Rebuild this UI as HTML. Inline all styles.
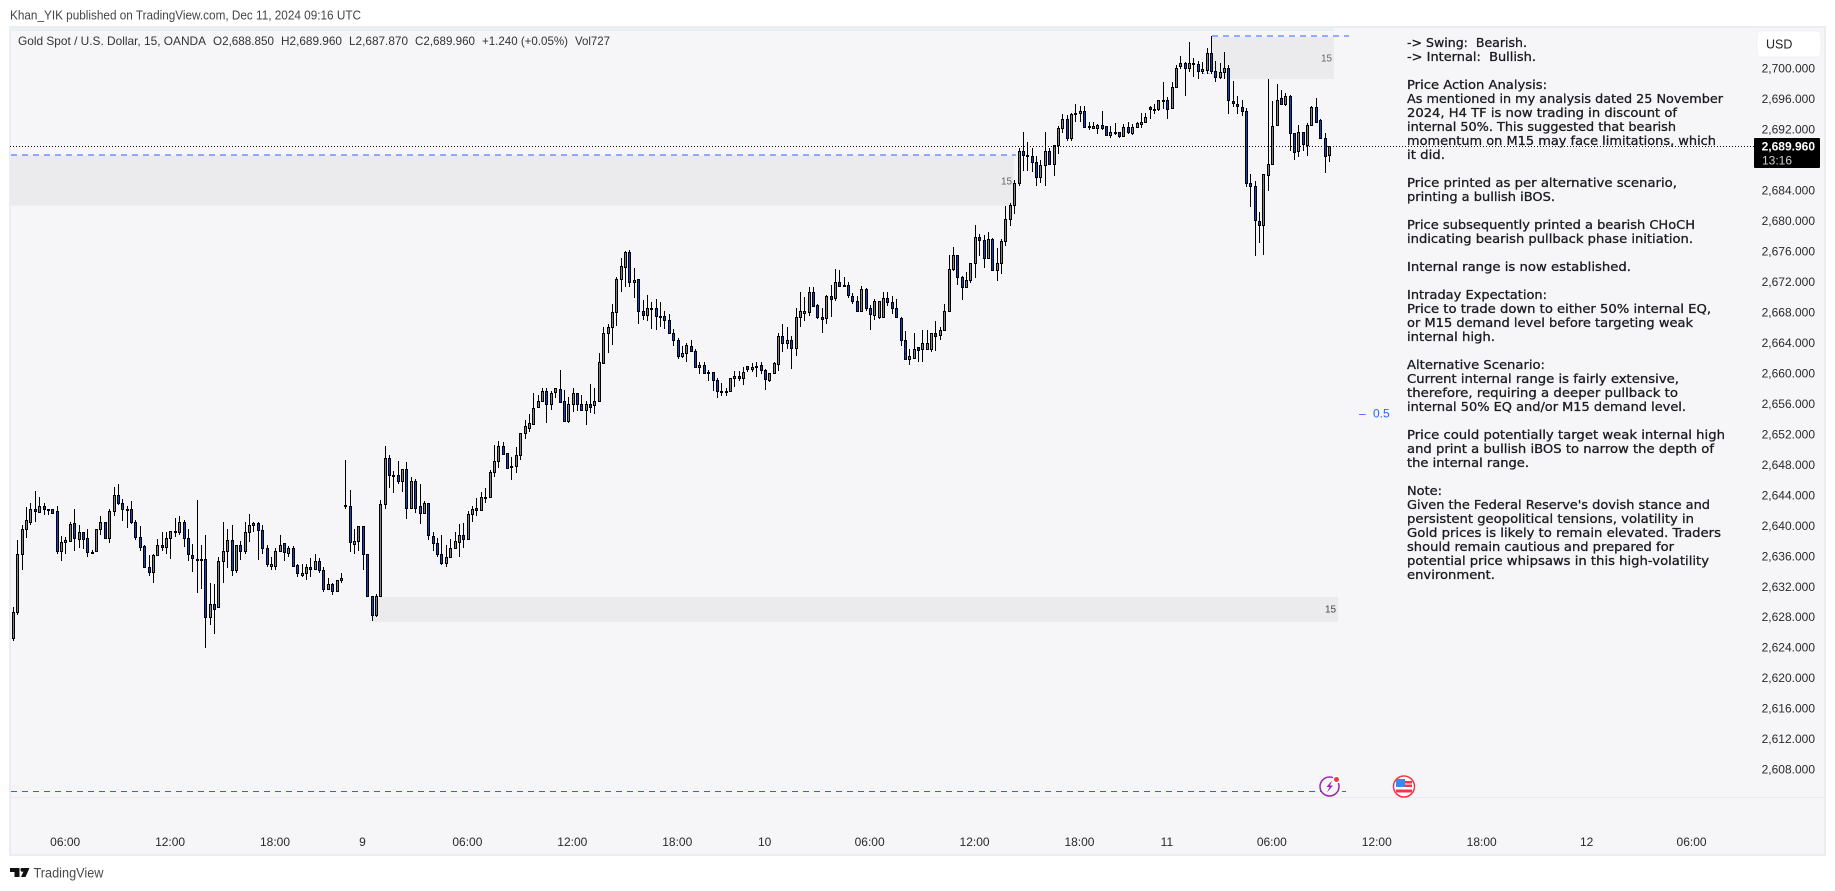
<!DOCTYPE html>
<html lang="en">
<head>
<meta charset="utf-8">
<title>Gold Spot / U.S. Dollar, 15, OANDA</title>
<style>
html,body{margin:0;padding:0;background:#fff;width:1835px;height:891px;overflow:hidden}
svg{display:block}
text{font-family:"Liberation Sans",sans-serif;white-space:pre}
.note text{font-family:"DejaVu Sans","Liberation Sans",sans-serif;font-size:12.5px;fill:#1a1c22;stroke:#1a1c22;stroke-width:.3}
</style>
</head>
<body>
<svg id="chart" xmlns="http://www.w3.org/2000/svg" width="1835" height="891" viewBox="0 0 1835 891">
  <rect x="0" y="0" width="1835" height="891" fill="#ffffff"/>
  <text x="10" y="19.5" font-size="12.5" fill="#454545" textLength="351" lengthAdjust="spacingAndGlyphs">Khan_YIK published on TradingView.com, Dec 11, 2024 09:16 UTC</text>

  <rect x="9" y="26" width="1817" height="830" fill="#ecedf3"/>
  <rect x="11" y="28" width="1813" height="826" fill="#f6f5f7"/>
  <rect x="11" y="28" width="1323" height="3" fill="#e8f0f3"/>
  <line x1="11" y1="797.5" x2="1824" y2="797.5" stroke="#ebeaf0" stroke-width="1"/>

  <rect x="11" y="155.5" width="1003" height="50" fill="#ebebee"/>
  <rect x="1212" y="37" width="122" height="42" fill="#ebebee"/>
  <rect x="372" y="597" width="966" height="25" fill="#ebebee"/>
  <text x="1001" y="184.5" font-size="10" fill="#666">15</text>
  <text x="1321" y="61.5" font-size="10" fill="#666">15</text>
  <text x="1325" y="612.5" font-size="10" fill="#444">15</text>

  <line x1="11" y1="155" x2="1016" y2="155" stroke="#2962ff" stroke-width="1" stroke-dasharray="6 5"/>
  <line x1="1212" y1="36" x2="1349" y2="36" stroke="#2962ff" stroke-width="1" stroke-dasharray="6 5"/>
  <line x1="11" y1="791.5" x2="1346" y2="791.5" stroke="#2962ff" stroke-width="1" stroke-dasharray="6 5"/>
  <line x1="1202" y1="73.5" x2="1212" y2="73.5" stroke="#9db8ff" stroke-width="1" stroke-dasharray="3 2"/>

  <g id="candles" shape-rendering="crispEdges"></g>

  <g class="note">
    <text x="1407" y="47" textLength="120" lengthAdjust="spacingAndGlyphs">-&gt; Swing:  Bearish.</text>
    <text x="1407" y="61" textLength="129" lengthAdjust="spacingAndGlyphs">-&gt; Internal:  Bullish.</text>
    <text x="1407" y="89" textLength="140" lengthAdjust="spacingAndGlyphs">Price Action Analysis:</text>
    <text x="1407" y="103" textLength="316" lengthAdjust="spacingAndGlyphs">As mentioned in my analysis dated 25 November</text>
    <text x="1407" y="117" textLength="270" lengthAdjust="spacingAndGlyphs">2024, H4 TF is now trading in discount of</text>
    <text x="1407" y="131" textLength="269" lengthAdjust="spacingAndGlyphs">internal 50%. This suggested that bearish</text>
    <text x="1407" y="145" textLength="309" lengthAdjust="spacingAndGlyphs">momentum on M15 may face limitations, which</text>
    <text x="1407" y="159" textLength="38" lengthAdjust="spacingAndGlyphs">it did.</text>
    <text x="1407" y="187" textLength="270" lengthAdjust="spacingAndGlyphs">Price printed as per alternative scenario,</text>
    <text x="1407" y="201" textLength="148" lengthAdjust="spacingAndGlyphs">printing a bullish iBOS.</text>
    <text x="1407" y="229" textLength="288" lengthAdjust="spacingAndGlyphs">Price subsequently printed a bearish CHoCH</text>
    <text x="1407" y="243" textLength="286" lengthAdjust="spacingAndGlyphs">indicating bearish pullback phase initiation.</text>
    <text x="1407" y="271" textLength="224" lengthAdjust="spacingAndGlyphs">Internal range is now established.</text>
    <text x="1407" y="299" textLength="140" lengthAdjust="spacingAndGlyphs">Intraday Expectation:</text>
    <text x="1407" y="313" textLength="304" lengthAdjust="spacingAndGlyphs">Price to trade down to either 50% internal EQ,</text>
    <text x="1407" y="327" textLength="286" lengthAdjust="spacingAndGlyphs">or M15 demand level before targeting weak</text>
    <text x="1407" y="341" textLength="88" lengthAdjust="spacingAndGlyphs">internal high.</text>
    <text x="1407" y="369" textLength="138" lengthAdjust="spacingAndGlyphs">Alternative Scenario:</text>
    <text x="1407" y="383" textLength="272" lengthAdjust="spacingAndGlyphs">Current internal range is fairly extensive,</text>
    <text x="1407" y="397" textLength="271" lengthAdjust="spacingAndGlyphs">therefore, requiring a deeper pullback to</text>
    <text x="1407" y="411" textLength="279" lengthAdjust="spacingAndGlyphs">internal 50% EQ and/or M15 demand level.</text>
    <text x="1407" y="439" textLength="318" lengthAdjust="spacingAndGlyphs">Price could potentially target weak internal high</text>
    <text x="1407" y="453" textLength="307" lengthAdjust="spacingAndGlyphs">and print a bullish iBOS to narrow the depth of</text>
    <text x="1407" y="467" textLength="122" lengthAdjust="spacingAndGlyphs">the internal range.</text>
    <text x="1407" y="495" textLength="35" lengthAdjust="spacingAndGlyphs">Note:</text>
    <text x="1407" y="509" textLength="303" lengthAdjust="spacingAndGlyphs">Given the Federal Reserve's dovish stance and</text>
    <text x="1407" y="523" textLength="287" lengthAdjust="spacingAndGlyphs">persistent geopolitical tensions, volatility in</text>
    <text x="1407" y="537" textLength="314" lengthAdjust="spacingAndGlyphs">Gold prices is likely to remain elevated. Traders</text>
    <text x="1407" y="551" textLength="267" lengthAdjust="spacingAndGlyphs">should remain cautious and prepared for</text>
    <text x="1407" y="565" textLength="302" lengthAdjust="spacingAndGlyphs">potential price whipsaws in this high-volatility</text>
    <text x="1407" y="579" textLength="88" lengthAdjust="spacingAndGlyphs">environment.</text>
  </g>

  <line x1="10" y1="146.5" x2="1754" y2="146.5" stroke="#111" stroke-width="1" stroke-dasharray="1 2"/>

  <g font-size="12" fill="#3a3a3a">
    <text x="18" y="45" fill="#333" font-size="12" textLength="188" lengthAdjust="spacingAndGlyphs">Gold Spot / U.S. Dollar, 15, OANDA</text>
    <text x="213" y="45" font-size="12" fill="#333" textLength="61" lengthAdjust="spacingAndGlyphs">O2,688.850</text>
    <text x="281" y="45" font-size="12" fill="#333" textLength="61" lengthAdjust="spacingAndGlyphs">H2,689.960</text>
    <text x="349" y="45" font-size="12" fill="#333" textLength="59" lengthAdjust="spacingAndGlyphs">L2,687.870</text>
    <text x="415" y="45" font-size="12" fill="#333" textLength="60" lengthAdjust="spacingAndGlyphs">C2,689.960</text>
    <text x="482" y="45" font-size="12" fill="#333" textLength="86" lengthAdjust="spacingAndGlyphs">+1.240 (+0.05%)</text>
    <text x="575" y="45" font-size="12" fill="#333" textLength="35" lengthAdjust="spacingAndGlyphs">Vol727</text>
  </g>

  <g id="price-axis" font-size="12" fill="#2a2a2a"></g>
  <g id="time-axis" font-size="12" fill="#2a2a2a"></g>

  <g fill="#2962ff" font-size="12">
    <text x="1359" y="417.5">–</text>
    <text x="1373" y="417.5">0.5</text>
  </g>

  <rect x="1757" y="31" width="64" height="26" rx="4" fill="#ffffff" stroke="#eef0f5" stroke-width="1"/>
  <text x="1766" y="48.5" font-size="12.5" fill="#222">USD</text>

  <rect x="1754" y="138" width="66" height="30" rx="1" fill="#000000"/>
  <text x="1815" y="150.5" font-size="12" font-weight="bold" fill="#ffffff" text-anchor="end">2,689.960</text>
  <text x="1762" y="164.5" font-size="12" fill="#d0d0d0">13:16</text>

  <g>
    <circle cx="1329.5" cy="786.5" r="9.5" fill="#f6f5f7" stroke="#9c27b0" stroke-width="1.5"/>
    <path d="M1332 780.5 L1326.5 787 L1329.5 787 L1327 792.5 L1333 785.5 L1330 785.5 Z" fill="#9c27b0"/>
    <circle cx="1336.5" cy="779.5" r="4" fill="#ffffff"/>
    <circle cx="1336.5" cy="779.5" r="2.5" fill="#f23645"/>
  </g>
  <g>
    <circle cx="1404" cy="786.5" r="10.5" fill="#ffffff" stroke="#f23645" stroke-width="1.5"/>
    <rect x="1396" y="779" width="9" height="8" fill="#2f8ef0"/>
    <rect x="1405" y="781" width="7" height="2.5" fill="#f23645"/>
    <rect x="1405" y="784.5" width="7" height="2.5" fill="#f23645"/>
    <rect x="1396" y="789.5" width="16" height="3" fill="#f23645"/>
  </g>

  <g>
    <path d="M10 868 H19.5 V877 H14.5 V872 H10 Z M21.5 868 H29.5 L25.5 877 H21 L23.5 871.5 A2 2 0 0 1 21.5 868 Z" fill="#111"/>
    <text x="33.5" y="877.5" font-size="13.5" fill="#4a4a4a" textLength="70" lengthAdjust="spacingAndGlyphs">TradingView</text>
  </g>
</svg>
<script>
const opens = [
2625.4,2628.9,2636.5,2639.8,2640.7,2642.3,2642.0,2642.7,2642.3,2642.3,
2642.1,2636.8,2638.0,2638.2,2640.5,2638.4,2639.3,2638.5,2636.6,2636.8,
2639.7,2640.6,2638.6,2642.1,2644.2,2643.2,2642.4,2642.4,2640.7,2638.7,
2637.5,2634.8,2634.1,2636.3,2637.7,2637.4,2638.5,2639.4,2639.4,2640.7,
2638.6,2636.3,2635.7,2635.7,2635.8,2628.2,2629.9,2629.5,2635.6,2636.9,
2638.3,2634.4,2637.6,2636.9,2639.3,2640.2,2640.5,2639.6,2637.3,2634.9,
2634.9,2636.9,2637.9,2636.6,2637.3,2635.0,2633.7,2634.0,2634.8,2634.5,
2635.6,2634.4,2631.9,2632.5,2631.6,2633.0,2642.9,2642.8,2637.8,2638.1,
2640.1,2636.5,2630.9,2628.5,2630.9,2643.0,2649.1,2646.7,2646.8,2646.0,
2647.6,2642.5,2646.1,2642.7,2641.8,2643.2,2638.8,2637.9,2636.4,2635.3,
2636.0,2637.3,2638.0,2639.0,2638.4,2641.7,2642.5,2642.2,2643.9,2644.0,
2647.2,2648.6,2650.6,2649.7,2647.9,2648.0,2649.4,2652.3,2653.0,2653.5,
2655.7,2656.5,2657.8,2656.1,2657.7,2658.1,2656.5,2653.9,2656.2,2657.6,
2656.2,2655.4,2656.2,2656.0,2656.5,2661.5,2665.5,2666.2,2668.2,2672.5,
2674.1,2676.1,2672.1,2672.5,2668.3,2667.8,2668.7,2668.7,2667.7,2667.7,
2667.1,2665.5,2664.6,2662.5,2662.8,2663.7,2663.1,2661.0,2661.2,2660.3,
2660.3,2659.3,2657.9,2657.9,2657.9,2659.5,2659.8,2659.5,2661.1,2660.7,
2661.0,2661.2,2660.6,2659.3,2660.2,2661.4,2665.0,2664.1,2664.6,2663.5,
2667.5,2668.1,2668.2,2670.8,2669.1,2667.6,2667.4,2670.3,2670.0,2672.2,
2671.6,2671.8,2670.3,2669.6,2668.4,2671.2,2668.7,2667.8,2667.6,2667.6,
2670.0,2669.5,2668.7,2667.4,2664.6,2662.1,2662.2,2663.6,2663.3,2663.4,
2663.4,2665.4,2665.2,2665.8,2668.4,2673.8,2675.7,2672.8,2671.5,2672.4,
2674.6,2678.0,2677.6,2675.3,2677.8,2673.7,2674.7,2677.5,2680.4,2682.3,
2685.1,2689.4,2688.7,2688.7,2687.9,2685.9,2687.5,2689.4,2687.6,2690.1,
2692.3,2693.5,2691.0,2694.2,2694.3,2694.6,2692.5,2692.3,2692.3,2692.7,
2692.6,2691.4,2691.9,2691.9,2691.3,2692.5,2691.7,2692.5,2692.9,2693.1,
2695.1,2694.8,2694.8,2696.1,2696.0,2695.0,2697.8,2700.5,2700.9,2700.2,
2700.8,2700.7,2699.9,2700.0,2702.2,2699.9,2699.0,2699.7,2700.2,2695.9,
2695.5,2695.1,2694.6,2685.1,2684.8,2680.1,2679.6,2686.2,2687.7,2692.7,
2696.3,2695.5,2696.5,2691.7,2689.3,2691.8,2690.1,2692.7,2695.1,2693.4,
2691.1,2688.85];
const closes = [
2628.9,2636.5,2639.8,2640.9,2642.3,2642.1,2642.7,2642.3,2642.4,2641.9,
2636.8,2638.0,2638.3,2640.4,2638.5,2639.3,2638.4,2636.7,2636.7,2639.7,
2640.6,2638.6,2642.1,2644.2,2643.2,2642.3,2642.3,2640.7,2638.7,2637.4,
2634.8,2634.1,2636.3,2637.7,2637.4,2638.5,2639.5,2639.5,2640.7,2638.6,
2636.4,2635.9,2635.8,2635.8,2628.2,2629.9,2629.3,2635.6,2636.9,2638.3,
2634.4,2637.6,2636.9,2639.3,2640.2,2640.5,2639.6,2637.3,2635.1,2635.1,
2636.8,2637.7,2636.7,2637.2,2634.9,2633.9,2634.0,2634.8,2634.5,2635.5,
2634.4,2631.8,2632.5,2631.6,2633.0,2633.3,2642.8,2638.0,2638.1,2640.1,
2636.5,2630.9,2628.5,2630.9,2643.0,2649.1,2646.8,2646.8,2646.0,2647.6,
2642.5,2646.1,2642.5,2641.8,2643.2,2638.9,2637.9,2636.4,2635.3,2636.0,
2637.3,2638.1,2639.0,2638.4,2641.7,2642.3,2642.2,2643.9,2644.0,2647.2,
2648.6,2650.6,2649.6,2647.8,2648.0,2649.4,2652.3,2653.2,2653.6,2655.6,
2656.5,2657.8,2656.1,2657.6,2658.2,2656.4,2653.9,2656.2,2657.6,2656.1,
2655.4,2656.2,2655.8,2656.5,2661.6,2665.5,2666.3,2668.2,2672.5,2674.2,
2676.1,2672.2,2672.4,2668.3,2667.8,2668.7,2668.7,2667.7,2667.5,2667.1,
2665.5,2664.5,2662.4,2662.8,2663.9,2663.1,2661.0,2661.2,2660.2,2660.3,
2659.3,2657.8,2657.9,2657.9,2659.5,2659.8,2659.6,2660.3,2660.7,2661.0,
2661.1,2660.6,2659.4,2660.2,2661.5,2665.0,2664.1,2664.6,2663.5,2667.5,
2668.4,2668.4,2670.8,2669.0,2667.6,2667.3,2670.3,2669.9,2672.1,2671.6,
2671.8,2670.4,2669.6,2668.4,2671.2,2668.8,2667.9,2669.7,2669.7,2670.0,
2669.5,2668.7,2667.5,2664.6,2662.1,2662.4,2663.3,2663.2,2664.2,2664.2,
2665.4,2665.0,2665.9,2668.4,2673.8,2675.7,2672.8,2671.5,2672.4,2674.6,
2678.0,2677.6,2675.3,2677.8,2673.7,2674.7,2677.5,2680.4,2682.3,2685.1,
2689.3,2688.8,2688.8,2687.9,2685.9,2687.5,2689.4,2687.6,2690.1,2692.3,
2693.5,2691.0,2694.2,2694.3,2694.6,2692.5,2692.6,2692.6,2692.7,2692.4,
2691.4,2691.9,2691.9,2691.3,2692.5,2691.8,2692.5,2693.0,2693.1,2693.8,
2694.9,2694.9,2696.1,2696.1,2694.8,2697.8,2700.3,2700.9,2700.2,2700.9,
2700.9,2699.9,2700.1,2702.2,2699.9,2699.1,2699.7,2700.2,2696.1,2695.6,
2695.2,2694.6,2685.1,2684.8,2680.3,2679.6,2686.3,2687.7,2692.6,2696.1,
2695.5,2696.5,2691.7,2689.2,2691.8,2690.2,2692.7,2695.1,2693.2,2691.1,
2688.7,2689.96];
const highs = [
2629.5,2638.3,2640.2,2642.6,2643.1,2644.7,2643.9,2643.1,2642.4,2642.4,
2642.7,2638.8,2638.7,2640.7,2642.4,2640.2,2639.4,2639.7,2637.0,2639.8,
2641.5,2640.7,2642.3,2645.2,2645.7,2643.7,2642.7,2643.4,2640.9,2640.1,
2637.6,2636.3,2636.5,2638.4,2639.3,2639.4,2639.5,2641.2,2641.5,2640.9,
2639.7,2637.8,2643.5,2637.7,2638.9,2632.6,2632.5,2636.0,2640.6,2639.7,
2640.2,2637.7,2638.1,2640.6,2641.7,2640.7,2640.6,2640.2,2637.6,2636.0,
2637.2,2639.0,2637.9,2637.5,2637.5,2635.2,2635.1,2635.2,2635.9,2636.4,
2635.9,2634.8,2633.3,2632.6,2633.1,2633.9,2648.8,2644.8,2639.7,2640.1,
2640.1,2636.5,2631.0,2631.2,2643.6,2650.6,2649.4,2647.4,2648.6,2647.6,
2648.5,2646.5,2646.3,2645.7,2643.4,2643.2,2639.3,2638.6,2638.9,2637.6,
2638.4,2639.4,2640.4,2640.5,2642.1,2642.8,2643.8,2644.6,2645.1,2647.5,
2650.8,2651.3,2651.2,2649.7,2649.2,2650.5,2652.3,2654.1,2654.8,2657.6,
2657.3,2658.3,2658.2,2657.8,2658.3,2660.6,2658.0,2657.0,2658.2,2657.6,
2657.3,2656.6,2658.8,2658.2,2662.8,2666.2,2666.7,2669.2,2672.8,2675.3,
2676.2,2676.4,2674.0,2672.5,2669.8,2670.5,2669.5,2669.9,2669.5,2668.3,
2667.9,2666.0,2664.8,2663.7,2664.1,2664.5,2663.3,2661.6,2661.6,2660.6,
2660.3,2659.5,2658.9,2658.3,2659.6,2660.5,2660.5,2661.0,2661.1,2661.5,
2661.6,2661.6,2660.7,2660.2,2661.6,2665.5,2666.7,2666.3,2665.0,2668.7,
2670.9,2670.2,2671.5,2671.5,2669.2,2668.7,2670.5,2671.8,2673.8,2673.7,
2672.8,2672.1,2670.7,2670.3,2671.6,2671.3,2669.1,2669.9,2669.7,2670.9,
2670.8,2670.3,2669.9,2667.6,2665.7,2663.3,2665.5,2663.6,2665.9,2665.8,
2665.5,2667.0,2666.3,2669.2,2675.7,2676.8,2675.7,2672.9,2673.4,2674.7,
2679.6,2678.4,2678.3,2678.7,2677.9,2676.6,2677.8,2682.1,2682.5,2685.5,
2689.8,2691.8,2690.5,2689.8,2688.7,2688.1,2691.9,2689.7,2690.1,2692.6,
2694.2,2694.1,2694.3,2695.5,2695.3,2695.2,2693.2,2693.2,2692.9,2694.6,
2692.6,2692.6,2693.0,2691.9,2692.9,2693.1,2692.9,2693.1,2694.3,2694.3,
2695.3,2695.5,2696.1,2698.4,2696.4,2698.4,2700.6,2701.8,2701.0,2703.7,
2701.5,2701.1,2701.0,2702.8,2704.4,2701.2,2700.9,2702.3,2700.6,2698.5,
2696.5,2696.1,2695.0,2686.3,2685.4,2681.3,2686.3,2698.8,2695.9,2698.1,
2697.3,2696.9,2696.7,2691.7,2692.7,2691.8,2693.0,2695.3,2696.3,2693.6,
2691.7,2689.96];
const lows = [
2625.1,2628.4,2634.4,2638.5,2640.3,2640.7,2641.8,2641.6,2641.6,2641.9,
2636.4,2635.5,2636.4,2638.1,2636.8,2637.2,2637.1,2636.1,2636.5,2636.7,
2638.9,2638.6,2637.9,2641.4,2642.9,2640.8,2639.9,2640.4,2638.3,2636.9,
2634.7,2633.6,2632.6,2636.2,2636.8,2636.4,2635.8,2638.7,2639.0,2637.4,
2635.5,2634.1,2631.4,2631.8,2624.1,2627.1,2626.0,2629.4,2632.7,2634.6,
2633.6,2633.9,2635.7,2636.5,2638.0,2639.3,2635.7,2636.5,2634.7,2634.4,
2634.3,2636.8,2635.6,2636.0,2634.7,2633.5,2633.4,2633.1,2633.5,2634.3,
2634.0,2631.5,2631.8,2631.1,2631.5,2632.6,2642.4,2636.7,2636.4,2636.9,
2634.3,2630.9,2627.6,2628.2,2630.9,2642.4,2645.1,2644.4,2645.7,2644.6,
2641.1,2642.4,2641.8,2640.4,2641.7,2638.3,2636.9,2636.1,2635.0,2634.8,
2636.0,2637.2,2636.1,2637.3,2638.3,2640.7,2641.4,2642.2,2643.2,2644.0,
2646.6,2647.8,2649.4,2647.8,2646.2,2647.1,2648.8,2651.5,2652.5,2653.4,
2655.7,2656.5,2653.6,2655.4,2656.9,2656.3,2653.8,2653.6,2655.1,2655.2,
2655.3,2653.4,2655.0,2654.8,2656.5,2661.4,2662.8,2663.9,2666.4,2670.9,
2671.5,2671.5,2670.0,2666.7,2667.2,2667.0,2666.0,2665.8,2666.2,2666.0,
2665.4,2663.8,2662.1,2662.2,2661.7,2663.0,2660.9,2660.1,2660.1,2659.1,
2657.8,2656.9,2657.2,2657.2,2657.9,2658.4,2659.2,2658.7,2660.4,2660.4,
2659.7,2660.1,2658.0,2659.0,2660.1,2660.5,2663.0,2663.4,2660.7,2662.5,
2666.3,2667.0,2667.7,2668.9,2667.3,2665.5,2666.7,2667.6,2669.7,2671.5,
2671.5,2670.1,2669.3,2668.4,2668.4,2668.4,2665.8,2667.1,2667.3,2667.6,
2669.0,2667.9,2667.5,2663.7,2662.1,2661.3,2662.1,2661.7,2661.7,2663.4,
2662.9,2663.1,2664.5,2665.8,2668.4,2673.6,2671.7,2669.8,2671.4,2672.0,
2672.7,2675.6,2674.0,2675.2,2673.6,2672.3,2673.2,2676.9,2679.5,2681.1,
2684.8,2686.7,2686.7,2686.6,2684.7,2685.1,2684.7,2687.5,2686.1,2688.9,
2691.7,2690.7,2690.6,2693.1,2693.1,2692.3,2692.1,2692.2,2691.6,2692.1,
2691.3,2691.1,2691.4,2691.0,2691.2,2691.6,2691.5,2692.3,2692.3,2693.1,
2693.5,2694.2,2694.6,2694.8,2693.5,2694.8,2697.8,2700.1,2696.6,2699.7,
2699.0,2698.8,2699.5,2699.5,2699.5,2698.4,2698.8,2698.8,2694.2,2695.1,
2694.2,2694.0,2684.6,2682.0,2675.5,2677.3,2675.7,2684.1,2687.6,2692.7,
2695.4,2695.3,2689.4,2688.1,2688.6,2689.3,2688.7,2692.7,2693.2,2691.0,
2686.4,2687.87];
const priceTicks = [2700,2696,2692,2684,2680,2676,2672,2668,2664,2660,2656,2652,2648,2644,2640,2636,2632,2628,2624,2620,2616,2612,2608];
const timeLabels = ['06:00','12:00','18:00','9','06:00','12:00','18:00','10','06:00','12:00','18:00','11','06:00','12:00','18:00','12','06:00'];
const timeBars = [12,36,60,80,104,128,152,172,196,220,244,264,288,312,336,360,384];

const NS = 'http://www.w3.org/2000/svg';
function xScale(i){ return 13.5 + i * 4.372; }
function yScale(p){ return 146.3 + (2689.96 - p) * 7.62; }
function makeRect(x, y, w, h, fill){
  const r = document.createElementNS(NS, 'rect');
  r.setAttribute('x', x);
  r.setAttribute('y', y);
  r.setAttribute('width', w);
  r.setAttribute('height', h);
  r.setAttribute('fill', fill);
  return r;
}
const candleLayer = document.getElementById('candles');
opens.forEach(function(open, i){
  const close = closes[i];
  const left = Math.round(xScale(i) - 1.5);
  const yHigh = Math.round(yScale(highs[i]));
  const yLow = Math.round(yScale(lows[i]));
  const yTop = Math.round(yScale(Math.max(open, close)));
  const yBot = Math.round(yScale(Math.min(open, close)));
  const bodyH = Math.max(yBot - yTop, 1);
  const g = document.createElementNS(NS, 'g');
  
  
  const wick = makeRect(left + 1, yHigh, 1, Math.max(yLow - yHigh, 1), '#000000');
  
  
  g.appendChild(wick);
  const body = makeRect(left, yTop, 3, bodyH + 1, '#000000');
  
  
  g.appendChild(body);
  if (bodyH > 1) {
    const fill = makeRect(left + 1, yTop + 1, 1, bodyH - 1, close >= open ? '#808080' : '#1240c4');
    
    
    g.appendChild(fill);
  }
  candleLayer.appendChild(g);
});
const priceAxis = document.getElementById('price-axis');
priceTicks.forEach(function(p){
  const t = document.createElementNS(NS, 'text');
  
  
  t.setAttribute('x', 1815);
  t.setAttribute('y', yScale(p) + 2.8);
  t.setAttribute('text-anchor', 'end');
  t.textContent = p.toLocaleString('en-US') + '.000';
  priceAxis.appendChild(t);
});
const timeAxis = document.getElementById('time-axis');
timeLabels.forEach(function(label, k){
  const t = document.createElementNS(NS, 'text');
  
  
  t.setAttribute('x', xScale(timeBars[k]) - 0.8);
  t.setAttribute('y', 846);
  t.setAttribute('text-anchor', 'middle');
  t.textContent = label;
  timeAxis.appendChild(t);
});
</script>
</body>
</html>
